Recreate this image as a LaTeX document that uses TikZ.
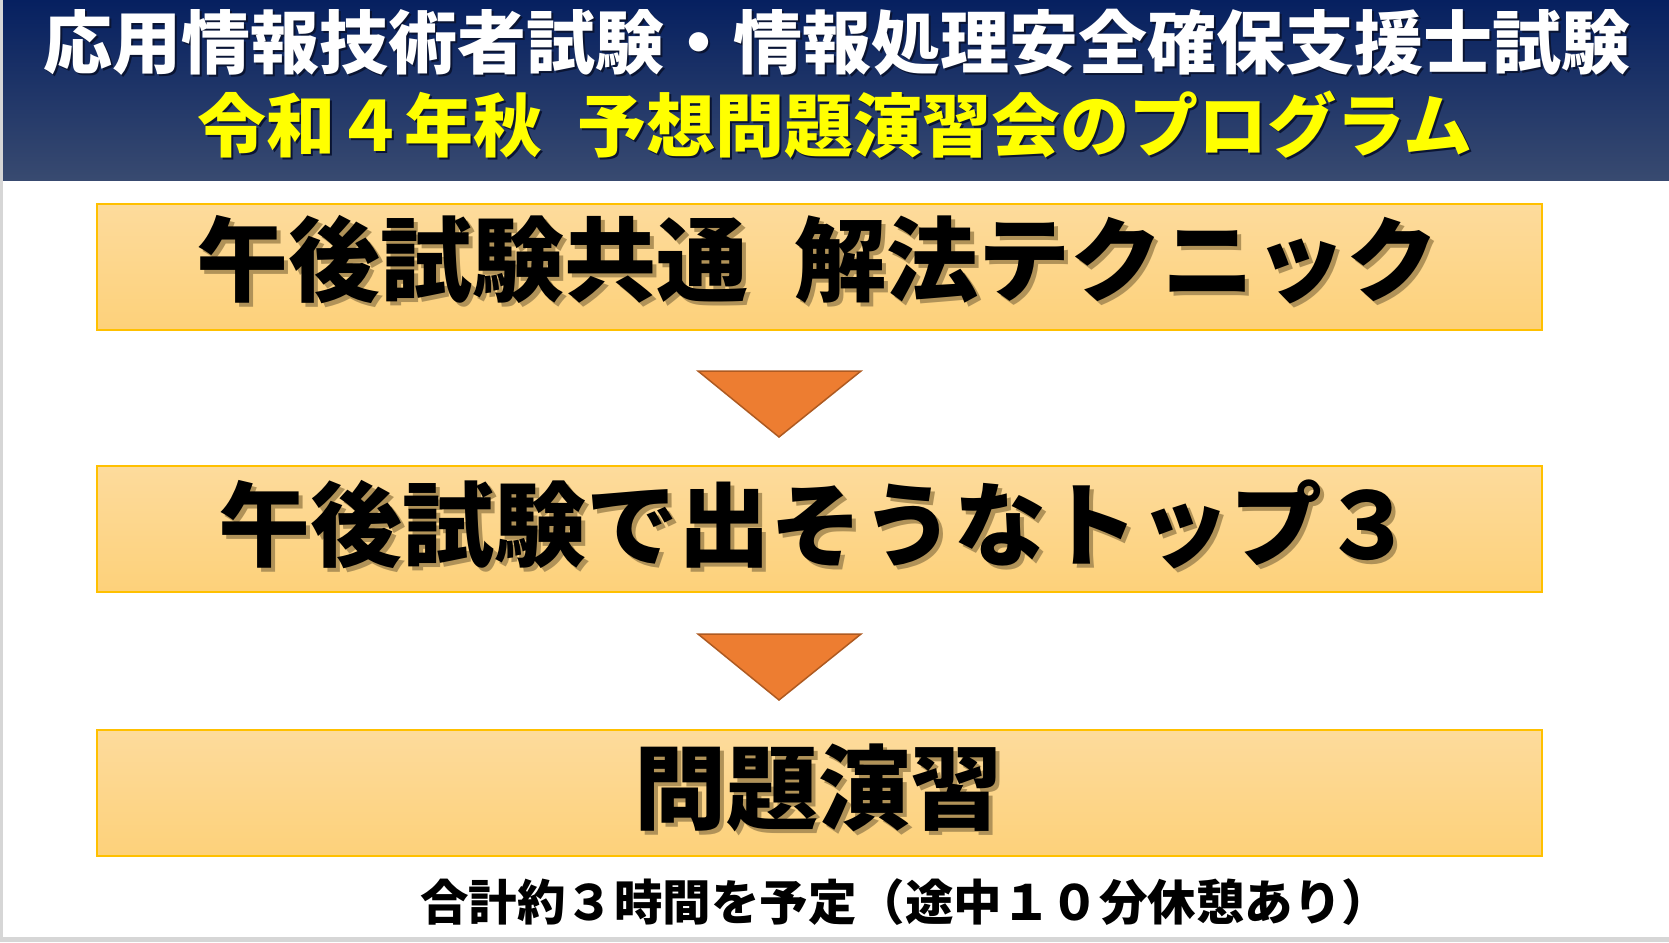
\documentclass[tikz,border=0pt]{standalone}
\usepackage{fontspec}
\newfontfamily\jp{Noto Sans CJK JP}
\definecolor{hdtop}{RGB}{6,32,96}
\definecolor{hdbot}{RGB}{56,74,112}
\definecolor{boxtop}{RGB}{253,219,156}
\definecolor{boxbot}{RGB}{253,209,122}
\definecolor{boxline}{RGB}{255,192,0}
\definecolor{trifill}{RGB}{237,125,49}
\definecolor{triline}{RGB}{174,90,33}
\definecolor{edgegray}{RGB}{214,214,214}
\definecolor{shadowc}{RGB}{176,146,88}
\definecolor{hdshadow}{RGB}{10,20,50}
\definecolor{hdyellow}{RGB}{255,255,0}
\newcommand\withshadow[3]{\makebox[0pt][l]{\hspace{#2}\raisebox{-#2}{\textcolor{#3}{#1}}}#1}
\begin{document}
\begin{tikzpicture}[x=1pt,y=-1pt,
  hdtext/.style={anchor=base,inner sep=0pt,font=\jp\bfseries\fontsize{69pt}{69pt}\selectfont},
  bigtext/.style={anchor=base,inner sep=0pt,font=\jp\bfseries\fontsize{92pt}{92pt}\selectfont,text=black},
  foottext/.style={anchor=base,inner sep=0pt,font=\jp\bfseries\fontsize{48.5pt}{48.5pt}\selectfont,text=black},
  stagebox/.style={rectangle,inner sep=0pt,minimum width=1445pt,minimum height=126pt,
    top color=boxtop,bottom color=boxbot,draw=boxline,line width=1.5pt},
  arrowtri/.style={fill=trifill,draw=triline,line width=1.5pt,line join=miter}]
\useasboundingbox (0,0) rectangle (1669,942);
\fill[white] (0,0) rectangle (1669,942);
\fill[edgegray] (0,0) rectangle (3,942);
\fill[edgegray] (0,937) rectangle (1669,942);
\shade[top color=hdtop,bottom color=hdbot] (3,0) rectangle (1669,180);
% header
\node[hdtext,text=white] (t1) at (837,68) {\withshadow{応用情報技術者試験・情報処理安全確保支援士試験}{2pt}{hdshadow}};
\node[hdtext,text=hdyellow] (t2) at (835,151) {\withshadow{令和４年秋\hspace{0.5em}予想問題演習会のプログラム}{2pt}{hdshadow}};
% boxes
\node[stagebox] (b1) at (819.5,267) {};
\node[stagebox] (b2) at (819.5,529) {};
\node[stagebox] (b3) at (819.5,793) {};
\node[bigtext] (l1) at (817,294) {\withshadow{午後試験共通\hspace{0.5em}解法テクニック}{4pt}{shadowc}};
\node[bigtext] (l2) at (816,559) {\withshadow{午後試験で出そうなトップ３}{4pt}{shadowc}};
\node[bigtext] (l3) at (818,822) {\withshadow{問題演習}{4pt}{shadowc}};
% triangles
\filldraw[arrowtri] (698,371) -- (861,371) -- (779,437) -- cycle;
\filldraw[arrowtri] (698,634) -- (861,634) -- (779,700) -- cycle;
% footer
\node[foottext] (f) at (905,920) {合計約３時間を予定（途中１０分休憩あり）};
\end{tikzpicture}
\end{document}
